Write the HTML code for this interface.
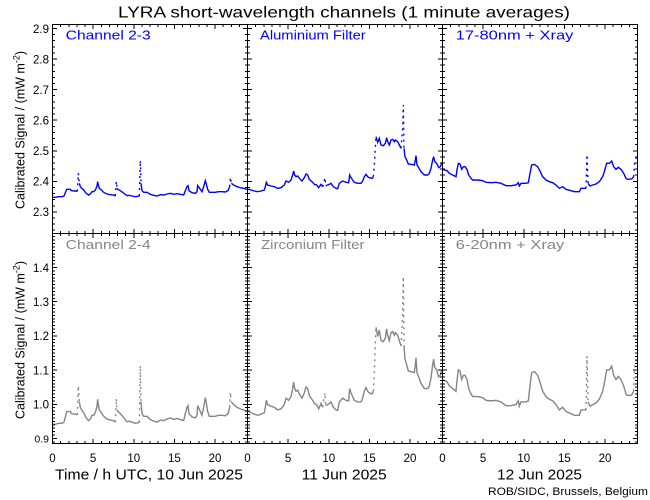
<!DOCTYPE html>
<html><head><meta charset="utf-8"><style>
html,body{margin:0;padding:0;background:#fff;}
svg{display:block;font-family:"Liberation Sans",sans-serif;}
</style></head><body>
<svg width="650" height="500" viewBox="0 0 650 500" xmlns="http://www.w3.org/2000/svg">
<rect width="650" height="500" fill="#fff"/>
<defs>
<g id="d1">
<path fill="none" vector-effect="non-scaling-stroke" d="M0,172 L10,172 20,170 30,170 36,168 40,158 44,148 55,148 58,152 70,153 76,154 M82,130 L85,140 90,146 95,150 100,157 105,162 110,165 115,162 120,155 125,155 130,150 135,138 137,125 139,135 142,145 148,150 155,157 165,162 175,164 185,165 190,168 M195,145 L198,148 205,152 212,157 218,162 225,167 232,166 240,168 250,170 258,169 262,168 M267,130 L270,152 275,157 285,157 295,163 305,166 315,168 325,164 335,165 345,162 355,160 365,163 375,161 385,163 395,165 400,152 405,140 408,137 411,152 420,158 430,160 435,155 437,137 445,148 450,155 455,140 460,122 463,132 467,148 472,157 480,157 490,157 500,155 510,155 520,156 528,152 533,140 M538,130 L545,135 555,140 565,143 575,145 585,148"/>
<path fill="none" vector-effect="non-scaling-stroke" stroke-dasharray="2 4" d="M76,154 L79,100 82,130 M190,168 L193,124 195,145 M262,168 L265,62 267,130 M533,140 L535,112 538,130"/>
</g>
<g id="d2">
<path fill="none" vector-effect="non-scaling-stroke" d="M0,283 L10,283 15,285 25,288 35,290 45,288 55,285 58,275 61,262 65,270 75,273 85,275 95,280 105,278 115,270 120,258 128,262 135,255 140,240 143,228 146,240 150,245 155,243 160,250 168,258 175,248 180,237 185,240 190,253 200,262 205,268 212,270 218,278 225,268 230,275 M239,272 L245,270 250,268 255,265 262,275 270,280 275,281 280,265 290,258 300,262 308,263 311,240 315,248 320,255 325,262 335,265 345,265 350,258 355,245 360,238 365,245 370,248 378,250 382,245 M390,125 L395,142 400,130 405,150 412,152 418,145 422,128 425,140 430,150 435,135 440,133 445,140 448,135 455,140 460,150 465,160 M474,160 L477,185 482,195 487,207 495,208 505,210 508,195 510,182 513,210 518,218 525,230 535,240 545,240 550,235 555,220 560,195 563,185 566,200 572,205 578,218 583,215 587,205"/>
<path fill="none" vector-effect="non-scaling-stroke" stroke-dasharray="2 4" d="M230,275 L237,248 239,272 M382,245 L385,210 387,175 389,140 390,125 M465,160 L470,100 472,30 474,160"/>
</g>
<g id="d3">
<path fill="none" vector-effect="non-scaling-stroke" d="M3,88 L10,90 18,92 25,100 35,105 45,110 48,90 52,70 57,72 62,88 67,80 72,80 78,88 83,105 90,115 95,120 110,120 125,122 135,127 150,128 165,127 180,130 195,137 210,137 225,135 232,128 235,138 240,130 255,130 262,128 267,100 272,75 280,73 290,80 298,95 305,110 315,120 325,125 335,128 345,135 355,145 365,140 375,148 390,152 400,155 415,155 420,145 435,145 M441,130 L447,138 455,135 465,132 475,125 485,110 490,95 497,70 505,70 512,63 518,80 525,88 532,82 540,88 548,100 555,115 560,118 572,117 578,110"/>
<path fill="none" vector-effect="non-scaling-stroke" stroke-dasharray="2 4" d="M435,145 L438,44 441,130 M578,110 L581,65 585,55 588,45"/>
</g>
</defs>

<!-- Top row data (blue) -->
<g stroke="#0000ff" stroke-width="1.4">
<g transform="translate(52,140) scale(0.333333)"><use href="#d1"/></g>
<g transform="translate(246,95) scale(0.333333)"><use href="#d2"/></g>
<g transform="translate(441,140) scale(0.333333)"><use href="#d3"/></g>
</g>
<!-- Bottom row data (gray) -->
<g stroke="#858585" stroke-width="1.4" transform="matrix(1 0 0 1.6 0 108.6)">
<g transform="translate(52,140) scale(0.333333)"><use href="#d1"/></g>
<g transform="translate(246,95) scale(0.333333)"><use href="#d2"/></g>
<g transform="translate(441,140) scale(0.333333)"><use href="#d3"/></g>
</g>

<!-- Axes frame -->
<g stroke="#000" stroke-width="1" fill="none" shape-rendering="crispEdges">
<rect x="52.5" y="24.5" width="585" height="419"/>
<line x1="247.5" y1="24.5" x2="247.5" y2="443.5"/>
<line x1="442.5" y1="24.5" x2="442.5" y2="443.5"/>
<line x1="52.5" y1="233.5" x2="637.5" y2="233.5"/>
</g>

<!-- Ticks -->
<g stroke="#000" fill="none" shape-rendering="crispEdges">
<line x1="52" y1="25.5" x2="638" y2="25.5" stroke-width="3" stroke-dasharray="1 7.125"/>
<line x1="52" y1="233.5" x2="638" y2="233.5" stroke-width="5" stroke-dasharray="1 7.125"/>
<line x1="52" y1="442.5" x2="638" y2="442.5" stroke-width="3" stroke-dasharray="1 7.125"/>
<line x1="52" y1="26.5" x2="248" y2="26.5" stroke-width="5" stroke-dasharray="1 39.625"/>
<line x1="247" y1="26.5" x2="443" y2="26.5" stroke-width="5" stroke-dasharray="1 39.625"/>
<line x1="442" y1="26.5" x2="638" y2="26.5" stroke-width="5" stroke-dasharray="1 39.625"/>
<line x1="52" y1="233.5" x2="248" y2="233.5" stroke-width="9" stroke-dasharray="1 39.625"/>
<line x1="247" y1="233.5" x2="443" y2="233.5" stroke-width="9" stroke-dasharray="1 39.625"/>
<line x1="442" y1="233.5" x2="638" y2="233.5" stroke-width="9" stroke-dasharray="1 39.625"/>
<line x1="52" y1="441.5" x2="248" y2="441.5" stroke-width="5" stroke-dasharray="1 39.625"/>
<line x1="247" y1="441.5" x2="443" y2="441.5" stroke-width="5" stroke-dasharray="1 39.625"/>
<line x1="442" y1="441.5" x2="638" y2="441.5" stroke-width="5" stroke-dasharray="1 39.625"/>
<line x1="53.5" y1="28" x2="53.5" y2="233" stroke-width="3" stroke-dasharray="1 5.1134"/>
<line x1="247.5" y1="28" x2="247.5" y2="233" stroke-width="5" stroke-dasharray="1 5.1134"/>
<line x1="442.5" y1="28" x2="442.5" y2="233" stroke-width="5" stroke-dasharray="1 5.1134"/>
<line x1="636.5" y1="28" x2="636.5" y2="233" stroke-width="3" stroke-dasharray="1 5.1134"/>
<line x1="54.5" y1="28" x2="54.5" y2="233" stroke-width="5" stroke-dasharray="1 29.567"/>
<line x1="247.5" y1="28" x2="247.5" y2="233" stroke-width="9" stroke-dasharray="1 29.567"/>
<line x1="442.5" y1="28" x2="442.5" y2="233" stroke-width="9" stroke-dasharray="1 29.567"/>
<line x1="635.5" y1="28" x2="635.5" y2="233" stroke-width="5" stroke-dasharray="1 29.567"/>
<line x1="53.5" y1="232.8" x2="53.5" y2="443" stroke-width="3" stroke-dasharray="1 2.42"/>
<line x1="247.5" y1="232.8" x2="247.5" y2="443" stroke-width="5" stroke-dasharray="1 2.42"/>
<line x1="442.5" y1="232.8" x2="442.5" y2="443" stroke-width="5" stroke-dasharray="1 2.42"/>
<line x1="636.5" y1="232.8" x2="636.5" y2="443" stroke-width="3" stroke-dasharray="1 2.42"/>
<line x1="54.5" y1="267" x2="54.5" y2="443" stroke-width="5" stroke-dasharray="1 33.2"/>
<line x1="247.5" y1="267" x2="247.5" y2="443" stroke-width="9" stroke-dasharray="1 33.2"/>
<line x1="442.5" y1="267" x2="442.5" y2="443" stroke-width="9" stroke-dasharray="1 33.2"/>
<line x1="635.5" y1="267" x2="635.5" y2="443" stroke-width="5" stroke-dasharray="1 33.2"/>
</g>

<!-- Title -->
<text x="118" y="17.5" font-size="16" textLength="452" lengthAdjust="spacingAndGlyphs" fill="#000">LYRA short-wavelength channels (1 minute averages)</text>

<!-- Panel labels -->
<g font-size="13" fill="#0000ff">
<text x="65.7" y="39.5" textLength="85" lengthAdjust="spacingAndGlyphs">Channel 2-3</text>
<text x="260" y="39.5" textLength="105.7" lengthAdjust="spacingAndGlyphs">Aluminium Filter</text>
<text x="455.7" y="39.5" textLength="117.7" lengthAdjust="spacingAndGlyphs">17-80nm + Xray</text>
</g>
<g font-size="13" fill="#858585">
<text x="65.7" y="249.2" textLength="85" lengthAdjust="spacingAndGlyphs">Channel 2-4</text>
<text x="261" y="249.2" textLength="103.5" lengthAdjust="spacingAndGlyphs">Zirconium Filter</text>
<text x="455.7" y="249.2" textLength="108.6" lengthAdjust="spacingAndGlyphs">6-20nm + Xray</text>
</g>

<!-- Y tick labels -->
<g font-size="11.5" fill="#000" text-anchor="end">
<text x="49" y="32.8">2.9</text>
<text x="49" y="63.4">2.8</text>
<text x="49" y="93.9">2.7</text>
<text x="49" y="124.5">2.6</text>
<text x="49" y="155.1">2.5</text>
<text x="49" y="185.6">2.4</text>
<text x="49" y="216.2">2.3</text>
<text x="49" y="271.8">1.4</text>
<text x="49" y="306">1.3</text>
<text x="49" y="340.2">1.2</text>
<text x="49" y="374.4">1.1</text>
<text x="49" y="408.6">1.0</text>
<text x="49" y="442.3" font-size="10.5">0.9</text>
</g>

<!-- X tick labels -->
<g font-size="11.5" fill="#000" text-anchor="middle">
<text x="52.5" y="462">0</text>
<text x="93.1" y="462">5</text>
<text x="133.8" y="462">10</text>
<text x="174.4" y="462">15</text>
<text x="215" y="462">20</text>
<text x="247.5" y="462">0</text>
<text x="288.1" y="462">5</text>
<text x="328.8" y="462">10</text>
<text x="369.4" y="462">15</text>
<text x="410" y="462">20</text>
<text x="442.5" y="462">0</text>
<text x="483.1" y="462">5</text>
<text x="523.8" y="462">10</text>
<text x="564.4" y="462">15</text>
<text x="605" y="462">20</text>
</g>

<!-- X titles -->
<g font-size="14.5" fill="#000">
<text x="55" y="479.3" textLength="188" lengthAdjust="spacingAndGlyphs">Time / h UTC, 10 Jun 2025</text>
<text x="301.7" y="479.3" textLength="85" lengthAdjust="spacingAndGlyphs">11 Jun 2025</text>
<text x="497" y="479.3" textLength="85" lengthAdjust="spacingAndGlyphs">12 Jun 2025</text>
</g>
<text x="488" y="495" font-size="11" textLength="160" lengthAdjust="spacingAndGlyphs" fill="#000">ROB/SIDC, Brussels, Belgium</text>

<!-- Y titles -->
<g font-size="12.5" fill="#000">
<text transform="translate(24.5,130) rotate(-90)" text-anchor="middle">Calibrated Signal / (mW m<tspan dy="-5" font-size="9">-2</tspan><tspan dy="5">)</tspan></text>
<text transform="translate(24.5,340) rotate(-90)" text-anchor="middle">Calibrated Signal / (mW m<tspan dy="-5" font-size="9">-2</tspan><tspan dy="5">)</tspan></text>
</g>
</svg>
</body></html>
